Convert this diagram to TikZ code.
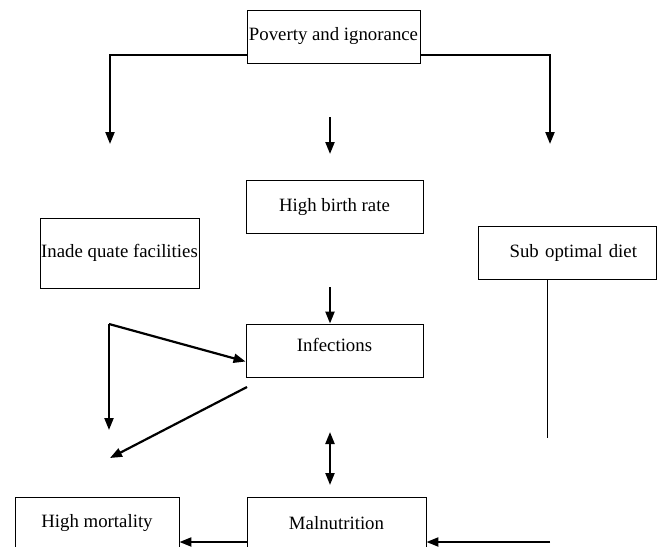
\documentclass[tikz,border=0pt]{standalone}
\usepackage{fontspec}
\setmainfont{Liberation Serif}
\usetikzlibrary{positioning,arrows.meta}

\begin{document}
\begin{tikzpicture}[x=1pt, y=-1pt,
  box/.style={draw, line width=0.9pt, minimum width=177pt, minimum height=53pt, inner sep=0pt, align=center, font=\fontsize{18.8}{22}\selectfont},
  arr/.style={-{Triangle[length=12pt,width=9pt]}, line width=2.2pt},
  darr/.style={{Triangle[length=12pt,width=9pt]}-{Triangle[length=12pt,width=9pt]}, line width=2.2pt},
  lne/.style={line width=0.9pt}]
\useasboundingbox (0,0) rectangle (660,546);
\clip (0,0) rectangle (660,546);
\node[box, minimum width=173pt] (pov) at (333.5,36.5) {Poverty and ignorance};
\node[box] (birth) at (334.5,207) {High birth rate};
\node[box, minimum width=159pt, minimum height=70pt] (fac) at (119.5,253) {Inade quate facilities};
\node[box, minimum width=178pt, text width=140pt, inner xsep=19pt, align=right] (diet) at (567,252.5) {Sub optimal diet};
\node[box] (inf) at (334.5,350.5) {\raisebox{12pt}{Infections}};
\node[box, minimum width=164pt, minimum height=52pt] (mort) at (97,523) {High mortality};
\node[box, minimum width=179pt, minimum height=52pt] (mal) at (336.5,523) {Malnutrition};
% free ends
\coordinate (py) at (0,55);
\coordinate (lt) at (110,144);
\coordinate (rt) at (550,144);
\coordinate (ms) at (330,117);
\coordinate (me) at (330,154);
\coordinate (bi) at (330,287);
\coordinate (fk) at (109,324);
\coordinate (fm) at (109,430);
\coordinate (is) at (247,387);
\coordinate (mt) at (110,458);
\coordinate (da) at (330,432);
\coordinate (db) at (330,485);
\coordinate (dl) at (547,438);
\coordinate (base) at (0,542);
\coordinate (sr) at (550,542);
% connectors
\draw[arr] (pov.west |- py) -| (lt);
\draw[arr] (pov.east |- py) -| (rt);
\draw[arr] (ms) -- (me);
\draw[arr] (bi) -- (bi |- inf.north);
\draw[arr] (fk) -- (fm);
\draw[arr] (fk) -- ([yshift=-11pt]inf.west);
\draw[arr] (is) -- (mt);
\draw[darr] (da) -- (db);
\draw[lne] (dl |- diet.south) -- (dl);
\draw[arr] (mal.west |- base) -- (mort.east |- base);
\draw[arr] (sr) -- (mal.east |- base);
\end{tikzpicture}
\end{document}
